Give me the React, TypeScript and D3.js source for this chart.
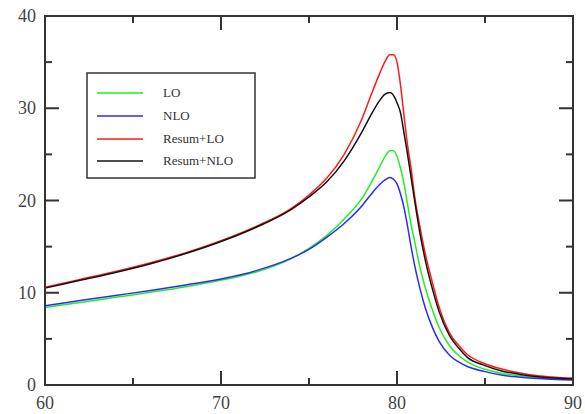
import React from "react";
import * as d3 from "d3";

const xs = [60, 62, 64, 66, 68, 70, 72, 74, 75, 76, 77, 78, 78.5, 79, 79.3, 79.6, 79.8, 80.0, 80.2, 80.4, 80.6, 80.8, 81.0, 81.3, 81.6, 82.0, 82.4, 83.0, 83.5, 84, 85, 86, 87, 88, 89, 90];

const loValues = [8.4, 8.95, 9.5, 10.05, 10.65, 11.35, 12.25, 13.7, 14.8, 16.2, 18.0, 20.2, 21.8, 23.6, 24.7, 25.4, 25.4, 24.8, 23.5, 21.8, 19.6, 17.4, 15.6, 12.8, 10.6, 8.2, 6.2, 4.2, 3.2, 2.5, 1.7, 1.25, 1.0, 0.8, 0.7, 0.6];
const nloValues = [8.6, 9.15, 9.7, 10.25, 10.85, 11.5, 12.4, 13.75, 14.7, 16.0, 17.5, 19.4, 20.6, 21.7, 22.2, 22.5, 22.3, 21.8, 20.7, 19.2, 17.2, 15.0, 13.0, 10.5, 8.4, 6.3, 4.7, 3.2, 2.5, 2.0, 1.45, 1.05, 0.85, 0.7, 0.6, 0.55];
const resumLoValues = [10.6, 11.45, 12.3, 13.25, 14.35, 15.65, 17.2, 19.15, 20.6, 22.4, 25.0, 28.8, 31.3, 33.7, 35.0, 35.8, 35.8, 35.0, 32.5, 29.2, 26.0, 23.5, 20.5, 17.2, 14.3, 11.2, 8.4, 5.6, 4.3, 3.3, 2.3, 1.7, 1.3, 1.0, 0.85, 0.75];
const resumNloValues = [10.5, 11.35, 12.2, 13.15, 14.25, 15.55, 17.1, 19.05, 20.4, 22.0, 24.3, 27.4, 29.2, 30.8, 31.5, 31.7, 31.4, 30.6, 29.5, 27.3, 25.0, 22.5, 20.0, 16.5, 13.6, 10.5, 7.9, 5.3, 4.0, 3.0, 2.1, 1.5, 1.15, 0.9, 0.75, 0.65];

const seriesNames = ["LO", "NLO", "Resum+LO", "Resum+NLO"];
const seriesColors = ["#22ee22", "#2a2aff", "#ff1a1a", "#111111"];
const seriesData = [loValues, nloValues, resumLoValues, resumNloValues];

const xTicks = [60, 70, 80, 90];
const xMinorTicks = [65, 75, 85];
const yTicks = [0, 10, 20, 30, 40];
const yMinorTicks = [5, 15, 25, 35];

export default function App() {
  const W = 585, H = 414;
  const left = 45, right = 573, top = 16, bottom = 385;
  const x = d3.scaleLinear().domain([60, 90]).range([left, right]);
  const y = d3.scaleLinear().domain([0, 40]).range([bottom, top]);
  const line = d3
    .line<number>()
    .x((_, i) => x(xs[i]))
    .y((d) => y(d))
    .curve(d3.curveMonotoneX);

  const axisColor = "#333";
  const font = "Liberation Serif, Times New Roman, serif";
  const majorLen = 14, minorLen = 7;

  const legendX = 87, legendY = 73, legendW = 168, legendH = 105;
  const legendRowY = [93, 116, 139, 161];

  return (
    <svg width={W} height={H} style={{ position: "absolute", left: 0, top: 0, background: "#fff" }}>
      <rect x={0} y={0} width={W} height={H} fill="#fff" />
      <g fill="none" strokeWidth={1.5} strokeLinejoin="round">
        {seriesData.map((vals, i) => (
          <path key={i} d={line(vals) || ""} stroke={seriesColors[i]} />
        ))}
      </g>
      <rect x={left} y={top} width={right - left} height={bottom - top} fill="none" stroke={axisColor} strokeWidth={2} />
      <g stroke={axisColor} strokeWidth={2}>
        {xTicks.map((t) => (
          <g key={"xt" + t}>
            <line x1={x(t)} x2={x(t)} y1={bottom} y2={bottom - majorLen} />
            <line x1={x(t)} x2={x(t)} y1={top} y2={top + majorLen} />
          </g>
        ))}
        {xMinorTicks.map((t) => (
          <g key={"xm" + t}>
            <line x1={x(t)} x2={x(t)} y1={bottom} y2={bottom - minorLen} />
            <line x1={x(t)} x2={x(t)} y1={top} y2={top + minorLen} />
          </g>
        ))}
        {yTicks.map((t) => (
          <g key={"yt" + t}>
            <line x1={left} x2={left + majorLen} y1={y(t)} y2={y(t)} />
            <line x1={right} x2={right - majorLen} y1={y(t)} y2={y(t)} />
          </g>
        ))}
        {yMinorTicks.map((t) => (
          <g key={"ym" + t}>
            <line x1={left} x2={left + minorLen} y1={y(t)} y2={y(t)} />
            <line x1={right} x2={right - minorLen} y1={y(t)} y2={y(t)} />
          </g>
        ))}
      </g>
      <g style={{ fontFamily: font }} fontSize={18} fill="#444">
        {xTicks.map((t) => (
          <text key={"xl" + t} x={x(t)} y={409} textAnchor="middle">
            {t}
          </text>
        ))}
        {yTicks.map((t) => (
          <text key={"yl" + t} x={36} y={y(t) + 6} textAnchor="end">
            {t}
          </text>
        ))}
      </g>
      <rect x={legendX} y={legendY} width={legendW} height={legendH} fill="#fff" stroke={axisColor} strokeWidth={1.5} />
      {seriesNames.map((name, i) => (
        <g key={name}>
          <line x1={97} x2={143} y1={legendRowY[i]} y2={legendRowY[i]} stroke={seriesColors[i]} strokeWidth={1.5} />
          <text x={163} y={legendRowY[i] + 4} style={{ fontFamily: font }} fontSize={13} fill="#333">
            {name}
          </text>
        </g>
      ))}
    </svg>
  );
}
